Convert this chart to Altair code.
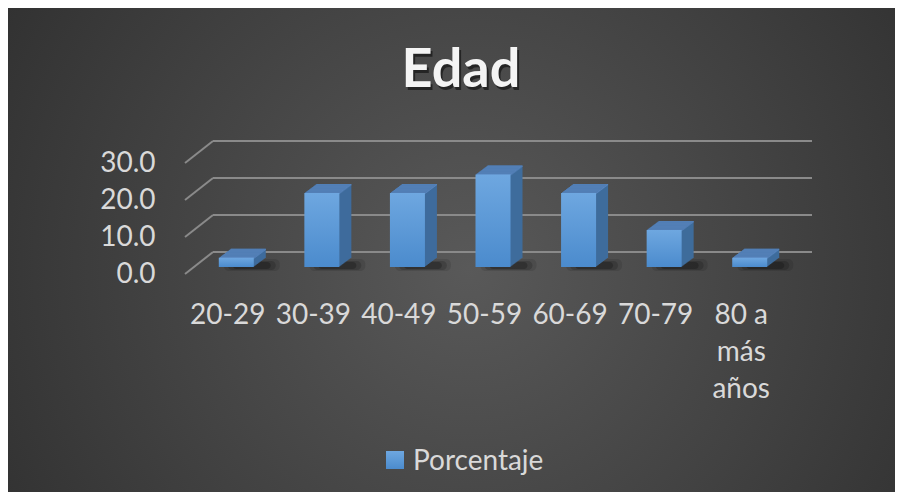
import altair as alt
import pandas as pd

categories = ["20-29", "30-39", "40-49", "50-59", "60-69", "70-79", "80 a más años"]
values = [2.5, 20.0, 20.0, 25.0, 20.0, 10.0, 2.5]
grid_values = [0, 10, 20, 30]
series_name = "Porcentaje"
title_text = "Edad"

df = pd.DataFrame({"cat": categories, "v": values})
gdf = pd.DataFrame({"g": grid_values})

W, H = 599, 111
PL, PT, PR, PB = 177, 155, 111, 218
FONT = "Lato"
LABEL_COLOR = "#d9d9d9"

yscale = alt.Scale(domain=[0, 30], nice=False)
yaxis = alt.Axis(domain=False, ticks=False, grid=False, values=grid_values, zindex=1,
                 format=".1f", labelFont=FONT, labelFontSize=28, title=None,
                 labelColor=LABEL_COLOR, labelPadding=30)

xs = alt.X("cat:N", sort=categories, title=None,
           scale=alt.Scale(paddingInner=0, paddingOuter=0),
           axis=alt.Axis(domain=False, ticks=False, grid=False, labelAngle=0, zindex=1,
                         labelFont=FONT, labelFontSize=28, labelColor=LABEL_COLOR,
                         labelPadding=27, labelLineHeight=37, labelOverlap=False,
                         labelExpr="datum.value == '80 a más años' ? ['80 a', 'más', 'años'] : datum.value"))
ys = alt.Y("v:Q", title=None, scale=yscale, axis=yaxis)

one = alt.Data(values=[{"a": 1}])

bg = alt.Chart(one).mark_rect(
    fill=alt.RadialGradient(gradient="radial", x1=0.52, y1=0.52, r1=0, x2=0.52, y2=0.52, r2=0.72,
                            stops=[alt.GradientStop(color="#595959", offset=0),
                                   alt.GradientStop(color="#2a2a2a", offset=1)])
).encode(x=alt.value(-PL), x2=alt.value(W + PR), y=alt.value(-PT), y2=alt.value(H + PB))

grid_back = alt.Chart(gdf).mark_rule(color="#8a8a8a", strokeWidth=2, xOffset=28, x2Offset=28, yOffset=-22).encode(
    y=alt.Y("g:Q", scale=yscale, axis=yaxis),
    x=alt.value(0), x2=alt.value(W))
grid_diag = alt.Chart(gdf).mark_rule(color="#8a8a8a", strokeWidth=2, y2Offset=-22).encode(
    y=alt.Y("g:Q", scale=yscale, axis=yaxis),
    y2=alt.Y2("g:Q"),
    x=alt.value(0), x2=alt.value(28))

base = alt.Chart(df)

layers = [bg, grid_back, grid_diag]

# soft shadows behind bar bases
for sz, op, xo, y1, y2 in [(56, 0.10, 24, -15, -3), (48, 0.16, 24, -13, -4), (38, 0.22, 24, -12, -5)]:
    layers.append(base.mark_bar(size=sz, xOffset=xo, color="black", opacity=op, cornerRadius=5,
                                yOffset=y1, y2Offset=y2).encode(
        x=xs, y=alt.datum(0, scale=yscale, axis=yaxis), y2=alt.datum(0)))

SIDE = "#3f6c9c"
TOP = "#5884bd"
K = 12
for k in range(K, 0, -1):
    dx = 8.5 + k
    dy = -7 - 0.75 * k
    layers.append(base.mark_bar(size=35, xOffset=dx, yOffset=dy, y2Offset=dy, color=SIDE).encode(x=xs, y=ys))
    layers.append(base.mark_bar(size=35, xOffset=dx, yOffset=dy, y2Offset=dy + 1.6, color=TOP).encode(
        x=xs, y=ys, y2=alt.Y2("v:Q")))

front_grad = alt.LinearGradient(gradient="linear", x1=0, y1=0, x2=0, y2=1,
                                stops=[alt.GradientStop(color="#6ea7e0", offset=0),
                                       alt.GradientStop(color="#4b8bcd", offset=1)])
layers.append(base.mark_bar(size=35, xOffset=8.5, yOffset=-7, y2Offset=-7, color=front_grad).encode(x=xs, y=ys))

# title with shadow
title_x = 461 - 185
title_y = 87 - 163
layers.append(alt.Chart(one).mark_text(text=title_text, font=FONT, fontSize=54, fontWeight="bold",
                                       color="black", opacity=0.5, dx=2, dy=3, align="center",
                                       baseline="alphabetic").encode(x=alt.value(title_x), y=alt.value(title_y)))
layers.append(alt.Chart(one).mark_text(text=title_text, font=FONT, fontSize=54, fontWeight="bold",
                                       color="#f4f4f4", align="center",
                                       baseline="alphabetic").encode(x=alt.value(title_x), y=alt.value(title_y)))

# legend
leg_grad = alt.LinearGradient(gradient="linear", x1=0, y1=0, x2=0, y2=1,
                              stops=[alt.GradientStop(color="#6ea7e0", offset=0),
                                     alt.GradientStop(color="#4b8bcd", offset=1)])
layers.append(alt.Chart(one).mark_rect(fill=leg_grad).encode(
    x=alt.value(201), x2=alt.value(219), y=alt.value(288), y2=alt.value(306)))
layers.append(alt.Chart(one).mark_text(text=series_name, font=FONT, fontSize=28, color=LABEL_COLOR,
                                       align="left", baseline="alphabetic").encode(
    x=alt.value(228), y=alt.value(307)))

chart = alt.layer(*layers).properties(
    width=W, height=H,
    autosize=alt.AutoSizeParams(type="none"),
    padding={"left": PL, "top": PT, "right": PR, "bottom": PB},
    background="white",
).configure_view(stroke=None)

chart.save("out.html", embed_options={"renderer": "svg", "actions": False})
